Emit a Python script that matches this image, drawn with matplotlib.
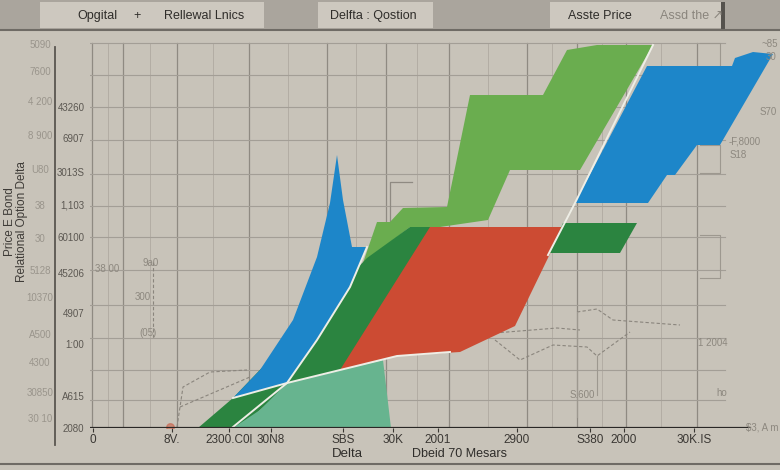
import matplotlib.pyplot as plt
import numpy as np
from matplotlib.patches import Rectangle

# --- data (axis units: strike 0..685, value 0..386) ---
light_green_x = [273, 287, 300, 313, 357, 380, 453, 477, 507, 563, 490, 420, 398, 350, 320]
light_green_y = [165, 206, 206, 220, 221, 333, 333, 378, 383, 383, 258, 258, 208, 201, 201]

dark_green_x = [108, 143, 277, 320, 352, 252, 200, 150]
dark_green_y = [0, 30, 170, 201, 201, 56, 45, 0]

red_x = [250, 307, 370, 425, 473, 340]
red_y = [58, 72, 76, 102, 201, 201]

mint_x = [143, 170, 197, 293, 301]
mint_y = [0, 18, 45, 68, 0]

blue_left_x = [143, 170, 203, 227, 240, 247, 253, 262, 277, 260, 227, 197]
blue_left_y = [30, 58, 108, 171, 225, 273, 228, 181, 181, 141, 88, 45]

blue_right_x = [485, 558, 577, 585, 607, 630, 683, 663, 645, 642, 557]
blue_right_y = [225, 225, 253, 253, 283, 283, 374, 376, 370, 362, 362]

small_green_x = [460, 473, 547, 530]
small_green_y = [175, 205, 205, 175]

edge1_x = [143, 170, 197, 227, 260, 277]
edge1_y = [1, 23, 45, 88, 141, 181]
edge2_x = [143, 197, 250, 307, 360]
edge2_y = [30, 45, 58, 72, 76]
edge3_x = [563, 485, 458]
edge3_y = [383, 225, 173]

dashed_lines = [
    ([87, 93, 120, 157], [1, 41, 56, 58]),
    ([90, 160], [21, 51]),
    ([405, 430, 463, 497, 507, 540], [88, 68, 83, 81, 72, 96]),
    ([405, 467, 490], [95, 100, 98]),
    ([487, 507, 523, 590], [116, 119, 108, 103]),
    ([63, 63], [166, 91]),
]

x_tick_pos = [3, 82, 139, 181, 253, 303, 348, 427, 500, 534, 604]
x_tick_labels = ['0', '8V.', '2300.C0l', '30N8', 'SBS', '30K', '2001', '2900', 'S380', '2000', '30K.IS']

y_tick_pos = [321, 290, 256, 224, 191, 155, 115, 84, 32, 0]
y_tick_labels = ['43260', '6907', '3013S', '1,103', '60100', '45206', '4907', '1:00', 'A615', '2080']

outer_labels = ['5090', '7600', '4 200', '8 900', 'U80', '38', '30', '5128', '10370',
                'A500', '4300', '30850', '30 10']
outer_label_px = [45, 72, 102, 136, 170, 206, 239, 271, 298, 335, 363, 393, 419]

grid_major_x = [2, 33, 87, 159, 237, 296, 359, 437, 487, 536, 607]
grid_y = [385, 353, 321, 288, 254, 222, 191, 158, 123, 90, 58, 28]

headers = ['Opgital', '+', 'Rellewal Lnics', 'Delfta : Qostion', 'Asste Price', 'Assd the \u2197']
header_px = [97, 137, 204, 373, 600, 692]

bg = '#c8c3b9'
c_blue = '#1d86c9'
c_lgreen = '#6aad4f'
c_dgreen = '#2b8440'
c_red = '#cc4b33'
c_mint = '#67b48f'
faint = '#8d887f'

plt.rcParams['font.family'] = ['Liberation Sans Narrow', 'Liberation Sans', 'DejaVu Sans']

fig = plt.figure(figsize=(7.8, 4.7), dpi=100, facecolor=bg)

def fx(px):
    return px / 780

def fy(py):
    return 1 - py / 470

# header strip
fig.patches.append(Rectangle((0, fy(29)), 1, fy(0) - fy(29), transform=fig.transFigure,
                             facecolor='#aaa59d', edgecolor='none', zorder=0))
for x0, x1 in [(40, 264), (318, 433), (550, 721)]:
    fig.patches.append(Rectangle((fx(x0), fy(28)), fx(x1 - x0), fy(2) - fy(28),
                                 transform=fig.transFigure, facecolor='#cdc8bf',
                                 edgecolor='none', zorder=0))
fig.patches.append(Rectangle((fx(721), fy(29)), fx(4), fy(2) - fy(29), transform=fig.transFigure,
                             facecolor='#55524d', edgecolor='none', zorder=0))
fig.add_artist(plt.Line2D([0, 1], [fy(30), fy(30)], color='#6f6b65', lw=1.5))
fig.add_artist(plt.Line2D([0, 1], [fy(464), fy(464)], color='#6f6b65', lw=1.5))
fig.add_artist(plt.Line2D([fx(55), fx(55)], [fy(47), fy(445)], color='#5a5650', lw=1.3))
for lab, px in zip(headers, header_px):
    col = '#8a857d' if 'the' in lab else '#2f2d2a'
    fig.text(fx(px), fy(16), lab, ha='center', va='center', fontsize=9, color=col)

ax = fig.add_axes([fx(90), fy(428), fx(685), fy(42) - fy(428)])
ax.set_facecolor('none')
ax.set_xlim(0, 685)
ax.set_ylim(0, 386)
for s in ax.spines.values():
    s.set_visible(False)

# grid
for gx in grid_major_x:
    ax.axvline(gx, ymax=385 / 386, color='#8f8a82', lw=0.9, zorder=0)
minor = np.array(grid_major_x[:-1]) + np.diff(grid_major_x) / 2
for gx in minor:
    ax.axvline(gx, ymax=385 / 386, color='#b3ada4', lw=0.7, zorder=0)
for gy in grid_y:
    ax.axhline(gy, xmin=0, xmax=635 / 685, color='#a39e96', lw=0.8, zorder=0)

# right-side boxes and stray rules
ax.plot([610, 630, 630], [385, 385, 363], color='#9d988f', lw=0.8)
ax.plot([610, 630, 630, 610], [283, 283, 255, 255], color='#9d988f', lw=0.8)
ax.plot([610, 630, 630, 610], [193, 193, 150, 150], color='#9d988f', lw=0.8)
ax.plot([300, 300, 322], [188, 246, 246], color='#8f8a82', lw=0.9)
ax.plot([487, 487], [116, 11], color='#9d988f', lw=0.8)
ax.plot([507, 507], [72, 33], color='#9d988f', lw=0.8)

for xs, ys in dashed_lines:
    ax.plot(xs, ys, color='#8a857d', lw=0.8, ls=(0, (3, 2)), zorder=1)

ax.fill(light_green_x, light_green_y, color=c_lgreen, lw=0, zorder=2)
ax.fill(dark_green_x, dark_green_y, color=c_dgreen, lw=0, zorder=3)
ax.fill(red_x, red_y, color=c_red, lw=0, zorder=4)
ax.fill(mint_x, mint_y, color=c_mint, lw=0, zorder=5)
ax.fill(blue_left_x, blue_left_y, color=c_blue, lw=0, zorder=6)
ax.fill(blue_right_x, blue_right_y, color=c_blue, lw=0, zorder=6)
ax.fill(small_green_x, small_green_y, color=c_dgreen, lw=0, zorder=6)
for xs, ys in [(edge1_x, edge1_y), (edge2_x, edge2_y), (edge3_x, edge3_y)]:
    ax.plot(xs, ys, color='#eeeee6', lw=1.4, zorder=7)
ax.scatter([80], [1], s=30, color='#c9614a', alpha=0.6, zorder=8)

# x axis
ax.axhline(0, xmin=0, xmax=660 / 685, color='#2a2826', lw=1.6, zorder=9)
ax.set_xticks(x_tick_pos, x_tick_labels)
ax.set_yticks(y_tick_pos, y_tick_labels)
ax.tick_params(axis='x', length=3, width=0.8, colors='#3a3733', labelsize=8.5, pad=1.5)
ax.tick_params(axis='y', length=0, labelcolor='#5c5852', labelsize=7, pad=4)

# inner notes
notes = [(107, 269, '38 00'), (151, 263, '9a0'), (143, 297, '300'), (148, 333, '(05)'),
         (582, 395, 'S.600'), (713, 343, '1 2004'), (722, 393, 'ho'),
         (770, 44, '~85'), (771, 57, '30'), (768, 112, 'S70'), (745, 142, '-F,8000'),
         (738, 155, 'S18')]
for px, py, t in notes:
    fig.text(fx(px), fy(py), t, ha='center', va='center', fontsize=7, color=faint)
fig.text(fx(779), fy(428), '$3, A m', ha='right', va='center', fontsize=7, color=faint)

for lab, py in zip(outer_labels, outer_label_px):
    fig.text(fx(40), fy(py), lab, ha='center', va='center', fontsize=7, color='#9a958c')

fig.text(fx(347), fy(454), 'Delta', ha='center', va='center', fontsize=9.5, color='#2f2d2a')
fig.text(fx(460), fy(454), 'Dbeid 70 Mesars', ha='center', va='center', fontsize=9, color='#2f2d2a')
fig.text(fx(16), fy(222), 'Price E Bond\nRelational Option Delta', ha='center', va='center',
         rotation=90, fontsize=8.5, color='#3e3b37', linespacing=1.05)

fig.savefig('out.png', dpi=100, facecolor=bg)
